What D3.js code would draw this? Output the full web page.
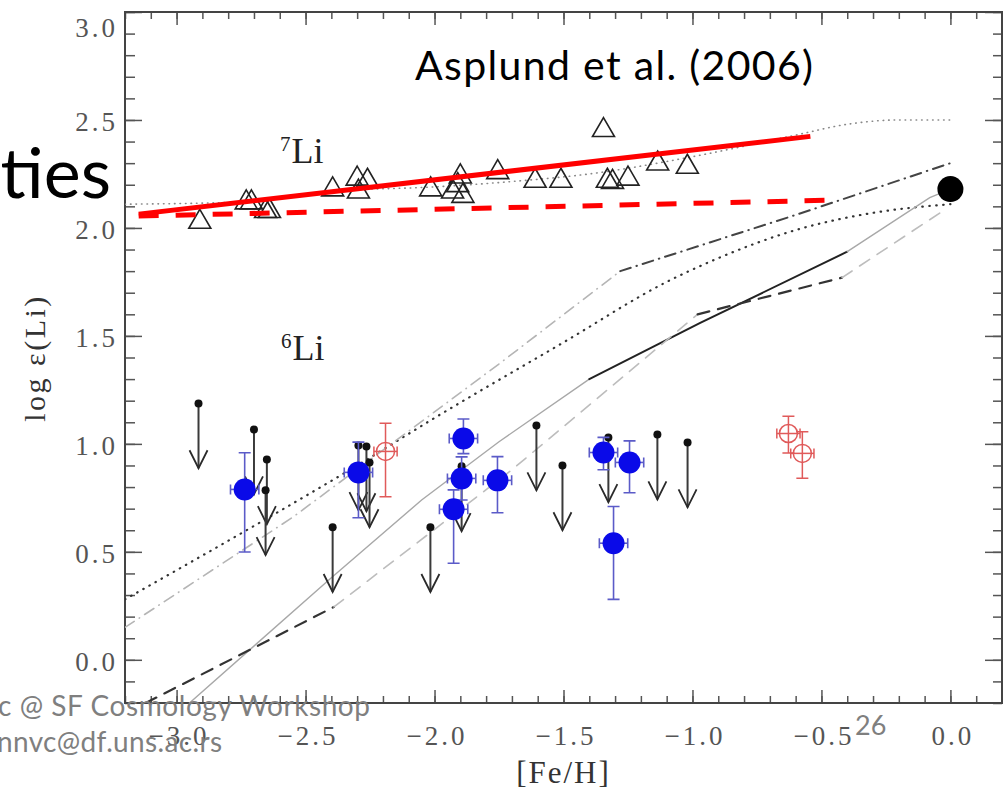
<!DOCTYPE html>
<html><head><meta charset="utf-8">
<script src="https://cdn.jsdelivr.net/npm/d3@7"></script>
<style>body{margin:0;background:#fff;} svg{display:block;}</style>
</head><body>
<svg id="c" width="1003" height="791"></svg>
<script>
// ---------- data ----------
const xMajorTicks = [-3.0, -2.5, -2.0, -1.5, -1.0, -0.5, 0.0];
const yMajorTicks = [0.0, 0.5, 1.0, 1.5, 2.0, 2.5, 3.0];

// 7Li measurements (open triangles)
const li7Fe  = [-2.91, -2.73, -2.71, -2.655, -2.64, -2.395, -2.30, -2.26, -2.295, -2.015, -1.93, -1.90, -1.89, -1.91, -1.755, -1.61, -1.51, -1.345, -1.33, -1.31, -1.25, -1.135, -1.02];
const li7Val = [2.04, 2.13, 2.13, 2.09, 2.09, 2.19, 2.24, 2.23, 2.18, 2.19, 2.18, 2.25, 2.16, 2.21, 2.27, 2.23, 2.23, 2.465, 2.23, 2.225, 2.24, 2.31, 2.295];

// 6Li upper limits (dot + downward arrow)
const ulFe  = [-2.915, -2.70, -2.65, -2.655, -2.395, -2.295, -2.264, -2.252, -2.016, -1.895, -1.605, -1.504, -1.326, -1.136, -1.019];
const ulVal = [1.187, 1.066, 0.928, 0.785, 0.614, 0.993, 0.988, 0.914, 0.614, 0.896, 1.085, 0.90, 1.03, 1.043, 1.006];

// 6Li detections (blue filled)
const blueFe    = [-2.736, -2.295, -1.888, -1.895, -1.926, -1.756, -1.345, -1.244, -1.306];
const blueVal   = [0.789, 0.868, 1.025, 0.84, 0.697, 0.831, 0.96, 0.914, 0.54];
const blueErrUp = [0.17, 0.14, 0.09, 0.10, 0.09, 0.11, 0.07, 0.10, 0.17];
const blueErrDn = [0.29, 0.21, 0.07, 0.10, 0.25, 0.15, 0.08, 0.14, 0.26];

// 6Li other (red open)
const redFe    = [-2.19, -0.628, -0.574];
const redVal   = [0.965, 1.048, 0.956];
const redErrUp = [0.13, 0.08, 0.10];
const redErrDn = [0.21, 0.09, 0.115];

// Sun
const sunFe = [0.0], sunVal = [2.18];

// model curves
const li7ModelX = [-3.2, -2.75, -2.4, -2.0, -1.7, -1.4, -1.0, -0.6, -0.4, -0.2, 0.0];
const li7ModelY = [2.11, 2.12, 2.17, 2.19, 2.215, 2.25, 2.33, 2.43, 2.48, 2.50, 2.50];

const dottedX = [-3.2, -2.7, -2.3, -2.0, -1.5, -1.1, -0.9, -0.6, -0.3, 0.0];
const dottedY = [0.28, 0.62, 0.90, 1.12, 1.47, 1.75, 1.86, 1.99, 2.07, 2.11];

const dashDotAX = [-3.2, -2.55, -1.75, -1.28];
const dashDotAY = [0.15, 0.66, 1.37, 1.80];
const dashDotBX = [-1.28, -0.6, 0.0];
const dashDotBY = [1.80, 2.06, 2.30];

const solidAX = [-2.95, -2.4, -2.05, -1.75, -1.4];
const solidAY = [-0.2, 0.38, 0.74, 1.01, 1.30];
const solidBX = [-1.4, -0.97, -0.4];
const solidBY = [1.30, 1.56, 1.89];
const solidCX = [-0.4, -0.08, 0.0];
const solidCY = [1.89, 2.14, 2.18];

const dashAX = [-3.12, -2.39];
const dashAY = [-0.2, 0.245];
const dashBX = [-2.39, -1.7, -0.98];
const dashBY = [0.245, 0.88, 1.60];
const dashCX = [-0.98, -0.42];
const dashCY = [1.60, 1.77];
const dashDX = [-0.42, -0.04];
const dashDY = [1.77, 2.07];

// red overlay fits
const redSolidX = [-3.147, -0.543];
const redSolidY = [2.064, 2.424];
const redDashX  = [-3.147, -0.477];
const redDashY  = [2.055, 2.128];

// ---------- drawing ----------
const svg = d3.select("#c");
const L = 125, R = 1002, T = 12, B = 703;
const x = d3.scaleLinear().domain([-3.2, 0.2]).range([L, R]);
const y = d3.scaleLinear().domain([-0.2, 3.0]).range([B, T]);

svg.append("defs").append("clipPath").attr("id", "clip")
  .append("rect").attr("x", L).attr("y", T).attr("width", R - L).attr("height", B - T);

const minorX = d3.range(-32, 3).map(i => i / 10);
const minorY = d3.range(-2, 31).map(i => i / 10);
const fmt = d3.format(".1f");
const tickColor = "#555";

function styleAxis(g) {
  g.select(".domain").remove();
  g.selectAll("line").attr("stroke", tickColor).attr("stroke-width", 1.5);
  g.selectAll("text").attr("fill", "#555")
    .style("font-family", "'Liberation Serif', serif").style("font-size", "27px")
    .style("letter-spacing", "3px");
}

// minor ticks
svg.append("g").attr("transform", `translate(0,${B})`)
  .call(d3.axisBottom(x).tickValues(minorX).tickSizeInner(-7).tickSizeOuter(0).tickFormat(""))
  .call(styleAxis);
svg.append("g").attr("transform", `translate(0,${T})`)
  .call(d3.axisTop(x).tickValues(minorX).tickSizeInner(-7).tickSizeOuter(0).tickFormat(""))
  .call(styleAxis);
svg.append("g").attr("transform", `translate(${L},0)`)
  .call(d3.axisLeft(y).tickValues(minorY).tickSizeInner(-10).tickSizeOuter(0).tickFormat(""))
  .call(styleAxis);
svg.append("g").attr("transform", `translate(${R},0)`)
  .call(d3.axisRight(y).tickValues(minorY).tickSizeInner(-9).tickSizeOuter(0).tickFormat(""))
  .call(styleAxis);

// major ticks
const gx = svg.append("g").attr("transform", `translate(0,${B})`)
  .call(d3.axisBottom(x).tickValues(xMajorTicks).tickSizeInner(-13).tickSizeOuter(0).tickFormat(fmt))
  .call(styleAxis);
gx.selectAll("text").attr("y", 42).attr("dy", null).attr("dx", "2");
svg.append("g").attr("transform", `translate(0,${T})`)
  .call(d3.axisTop(x).tickValues(xMajorTicks).tickSizeInner(-13).tickSizeOuter(0).tickFormat(""))
  .call(styleAxis);
const gy = svg.append("g").attr("transform", `translate(${L},0)`)
  .call(d3.axisLeft(y).tickValues(yMajorTicks).tickSizeInner(-17).tickSizeOuter(0).tickPadding(7).tickFormat(fmt))
  .call(styleAxis);
gy.selectAll("text").attr("dy", "0.4em");
gy.selectAll(".tick").filter(d => d === 3.0).select("text").attr("dy", "0.4em").attr("y", 14);
svg.append("g").attr("transform", `translate(${R},0)`)
  .call(d3.axisRight(y).tickValues(yMajorTicks).tickSizeInner(-17).tickSizeOuter(0).tickFormat(""))
  .call(styleAxis);

// frame
svg.append("rect").attr("x", L).attr("y", T).attr("width", R - L).attr("height", B - T)
  .attr("fill", "none").attr("stroke", "#444").attr("stroke-width", 2);

// axis titles
svg.append("text").attr("x", (L + R) / 2).attr("y", 783).attr("text-anchor", "middle")
  .style("font-family", "'Liberation Serif', serif").style("font-size", "31px").style("letter-spacing", "2px")
  .attr("fill", "#333").text("[Fe/H]");
svg.append("text").attr("transform", "translate(45,358) rotate(-90)").attr("text-anchor", "middle")
  .style("font-family", "'Liberation Serif', serif").style("font-size", "30px").style("letter-spacing", "2.5px")
  .attr("fill", "#333").text("log ε(Li)");

const plot = svg.append("g").attr("clip-path", "url(#clip)");
const line = d3.line().x(d => x(d[0])).y(d => y(d[1]));
const smooth = d3.line().x(d => x(d[0])).y(d => y(d[1])).curve(d3.curveMonotoneX);
const zip = (a, b) => a.map((v, i) => [v, b[i]]);

function curve(xs, ys, color, width, dash, gen) {
  plot.append("path").datum(zip(xs, ys)).attr("d", gen || line)
    .attr("fill", "none").attr("stroke", color).attr("stroke-width", width)
    .attr("stroke-dasharray", dash || null).attr("stroke-linecap", "round");
}

curve(li7ModelX, li7ModelY, "#888", 1.6, "0.5,5", smooth);
curve(dottedX, dottedY, "#333", 2.2, "0.5,6.5", smooth);
curve(dashDotAX, dashDotAY, "#b5b5b5", 1.6, "11,6,0.5,6");
curve(dashDotBX, dashDotBY, "#444", 2, "11,6,0.5,6");
curve(solidAX, solidAY, "#a8a8a8", 1.4);
curve(solidBX, solidBY, "#222", 2);
curve(solidCX, solidCY, "#a8a8a8", 1.4);
curve(dashAX, dashAY, "#333", 2.2, "12,9");
curve(dashBX, dashBY, "#bdbdbd", 1.6, "12,9");
curve(dashCX, dashCY, "#333", 2.2, "12,9");
curve(dashDX, dashDY, "#bdbdbd", 1.6, "12,9");

// 7Li triangles
plot.selectAll(".tri").data(zip(li7Fe, li7Val)).join("path").attr("class", "tri")
  .attr("transform", d => `translate(${x(d[0])},${y(d[1])})`)
  .attr("d", "M0,-10 L11,9 L-11,9 Z")
  .attr("fill", "none").attr("stroke", "#222").attr("stroke-width", 1.6);

// upper limits
const ul = plot.selectAll(".ul").data(zip(ulFe, ulVal)).join("g").attr("class", "ul");
ul.append("line").attr("x1", d => x(d[0])).attr("x2", d => x(d[0]))
  .attr("y1", d => y(d[1])).attr("y2", d => y(d[1] - 0.3))
  .attr("stroke", "#3a3a3a").attr("stroke-width", 2);
ul.append("path").attr("d", d => {
    const cx = x(d[0]), ty = y(d[1] - 0.3);
    return `M${cx - 9},${ty - 18} L${cx},${ty} L${cx + 9},${ty - 18}`;
  }).attr("fill", "none").attr("stroke", "#2a2a2a").attr("stroke-width", 1.8);
ul.append("circle").attr("cx", d => x(d[0])).attr("cy", d => y(d[1])).attr("r", 4).attr("fill", "#111");

// red open points
const xe = 0.045;
const rg = plot.selectAll(".rp").data(redFe.map((v, i) => ({x: v, y: redVal[i], up: redErrUp[i], dn: redErrDn[i]})))
  .join("g").attr("class", "rp").attr("stroke", "#e05a5a").attr("stroke-width", 1.5).attr("fill", "none");
rg.append("line").attr("x1", d => x(d.x)).attr("x2", d => x(d.x)).attr("y1", d => y(d.y + d.up)).attr("y2", d => y(d.y - d.dn));
rg.append("line").attr("x1", d => x(d.x - xe)).attr("x2", d => x(d.x + xe)).attr("y1", d => y(d.y)).attr("y2", d => y(d.y));
rg.append("path").attr("d", d => {
  const cx = x(d.x), t = y(d.y + d.up), b = y(d.y - d.dn), l = x(d.x - xe), r = x(d.x + xe), cy = y(d.y);
  return `M${cx - 6},${t}H${cx + 6}M${cx - 6},${b}H${cx + 6}M${l},${cy - 5}V${cy + 5}M${r},${cy - 5}V${cy + 5}`;
});
rg.append("circle").attr("cx", d => x(d.x)).attr("cy", d => y(d.y)).attr("r", 9);

// blue detections
const bg = plot.selectAll(".bp").data(blueFe.map((v, i) => ({x: v, y: blueVal[i], up: blueErrUp[i], dn: blueErrDn[i]})))
  .join("g").attr("class", "bp");
bg.append("line").attr("x1", d => x(d.x)).attr("x2", d => x(d.x)).attr("y1", d => y(d.y + d.up)).attr("y2", d => y(d.y - d.dn))
  .attr("stroke", "#5b5bc8").attr("stroke-width", 1.6);
bg.append("line").attr("x1", d => x(d.x - 0.055)).attr("x2", d => x(d.x + 0.055)).attr("y1", d => y(d.y)).attr("y2", d => y(d.y))
  .attr("stroke", "#5b5bc8").attr("stroke-width", 1.6);
bg.append("path").attr("d", d => {
  const cx = x(d.x), t = y(d.y + d.up), b = y(d.y - d.dn), l = x(d.x - 0.055), r = x(d.x + 0.055), cy = y(d.y);
  return `M${cx - 6},${t}H${cx + 6}M${cx - 6},${b}H${cx + 6}M${l},${cy - 5}V${cy + 5}M${r},${cy - 5}V${cy + 5}`;
}).attr("fill", "none").attr("stroke", "#5b5bc8").attr("stroke-width", 1.6);
bg.append("circle").attr("cx", d => x(d.x)).attr("cy", d => y(d.y)).attr("r", 11).attr("fill", "#0a0ae8");

// Sun
plot.selectAll(".sun").data(zip(sunFe, sunVal)).join("circle").attr("class", "sun")
  .attr("cx", d => x(d[0])).attr("cy", d => y(d[1])).attr("r", 13).attr("fill", "#000");

// isotope labels
function isoLabel(sup, px, py) {
  const t = svg.append("text").attr("x", px).attr("y", py)
    .style("font-family", "'Liberation Serif', serif").attr("fill", "#222");
  t.append("tspan").style("font-size", "21px").attr("dy", -12).text(sup);
  t.append("tspan").style("font-size", "36px").attr("dy", 12).attr("dx", 1).text("Li");
}
isoLabel("7", 280, 163);
isoLabel("6", 281, 360);

// red overlay lines
svg.append("path").datum(zip(redSolidX, redSolidY)).attr("d", line)
  .attr("stroke", "#ff0000").attr("stroke-width", 5).attr("fill", "none");
svg.append("path").datum(zip(redDashX, redDashY)).attr("d", line)
  .attr("stroke", "#ff0000").attr("stroke-width", 5).attr("fill", "none").attr("stroke-dasharray", "20,17");

// slide overlay text
svg.append("text").attr("x", 415).attr("y", 80).attr("textLength", 398)
  .style("font-family", "Lato, 'Open Sans', sans-serif").style("font-size", "41px").attr("fill", "#000")
  .text("Asplund et al. (2006)");
svg.append("text").attr("x", 111).attr("y", 198).attr("text-anchor", "end")
  .style("font-family", "Lato, 'Open Sans', sans-serif").style("font-size", "70px").attr("fill", "#000")
  .text("ties");
svg.append("text").attr("x", -2).attr("y", 716).attr("textLength", 372)
  .style("font-family", "Lato, 'Open Sans', sans-serif").style("font-size", "28px").attr("fill", "#7f7f7f")
  .text("c @ SF Cosmology Workshop");
svg.append("text").attr("x", -3).attr("y", 752).attr("textLength", 225)
  .style("font-family", "Lato, 'Open Sans', sans-serif").style("font-size", "28px").attr("fill", "#7f7f7f")
  .text("nnvc@df.uns.ac.rs");
svg.append("text").attr("x", 855).attr("y", 735)
  .style("font-family", "Lato, 'Open Sans', sans-serif").style("font-size", "27px").attr("fill", "#7f7f7f")
  .text("26");
</script></body></html>
